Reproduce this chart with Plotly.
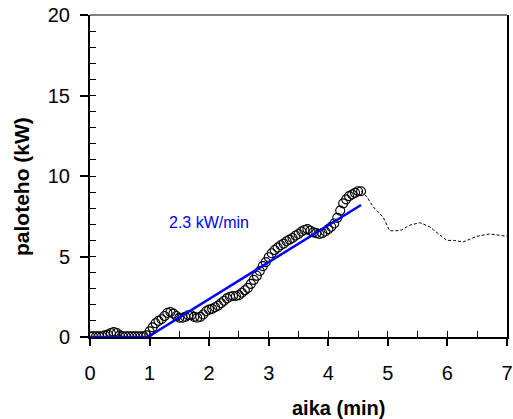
import plotly.graph_objects as go

# measured heat release (circles), time step 0.05 min
t_meas = [round(i * 0.05, 2) for i in range(92)]
hrr_meas = [0.05, 0.05, 0.05, 0.05, 0.05, 0.1, 0.15, 0.25, 0.3, 0.25,
            0.1, 0.05, 0.05, 0.05, 0.05, 0.05, 0.05, 0.05, 0.05, 0.1,
            0.35, 0.6, 0.85, 1.0, 1.1, 1.3, 1.5, 1.55, 1.45, 1.3,
            1.2, 1.2, 1.25, 1.35, 1.35, 1.25, 1.2, 1.25, 1.4, 1.6,
            1.7, 1.75, 1.85, 1.95, 2.1, 2.25, 2.4, 2.5, 2.55, 2.55,
            2.6, 2.75, 2.9, 3.05, 3.3, 3.55, 3.8, 4.1, 4.4, 4.65,
            4.95, 5.2, 5.4, 5.55, 5.7, 5.8, 5.95, 6.05, 6.15, 6.3,
            6.4, 6.55, 6.65, 6.7, 6.6, 6.5, 6.45, 6.4, 6.45, 6.55,
            6.7, 6.85, 7.05, 7.4, 7.85, 8.3, 8.55, 8.75, 8.85, 8.95,
            9.05, 9.05]

# continuation after fit range (thin dashed)
t_tail = [4.55, 4.65, 4.75, 4.92, 5.03, 5.15, 5.23, 5.37, 5.54, 5.7,
          5.99, 6.12, 6.26, 6.49, 6.71, 6.88, 7.0]
hrr_tail = [9.05, 8.7, 8.1, 7.45, 6.6, 6.6, 6.65, 6.95, 7.1, 6.85,
            6.0, 6.0, 5.9, 6.25, 6.4, 6.3, 6.25]

# linear fit (2.3 kW/min)
t_fit = [0.0, 0.97, 4.55]
hrr_fit = [0.0, 0.0, 8.2]

x_ticks = [0, 1, 2, 3, 4, 5, 6, 7]
y_ticks = [0, 5, 10, 15, 20]

FONT = "Liberation Sans, Arial, sans-serif"

fig = go.Figure()
fig.add_trace(go.Scatter(x=t_tail, y=hrr_tail, mode="lines",
                         line=dict(color="black", width=1, dash="3px,2px"),
                         showlegend=False))
fig.add_trace(go.Scatter(x=t_meas, y=hrr_meas, mode="markers",
                         marker=dict(symbol="circle-open", size=9,
                                     color="black", line=dict(width=1.1)),
                         showlegend=False))
fig.add_trace(go.Scatter(x=t_fit, y=hrr_fit, mode="lines",
                         line=dict(color="#0000ff", width=2.5),
                         xaxis="x2", yaxis="y2", showlegend=False))

fig.update_layout(
    width=513, height=419,
    margin=dict(l=90, r=6, t=15, b=82, autoexpand=False),
    paper_bgcolor="white", plot_bgcolor="white",
    font=dict(family=FONT, color="black"),
    xaxis=dict(range=[0, 7], tickvals=x_ticks, ticks="outside", ticklen=7,
               tickwidth=1.5, tickcolor="black", showline=True,
               linecolor="black", linewidth=2, showgrid=False,
               zeroline=False, tickfont=dict(size=20),
               ticklabelstandoff=10, automargin=False),
    yaxis=dict(range=[0, 20], tickvals=y_ticks, ticks="outside", ticklen=8,
               tickwidth=1.5, tickcolor="black", showline=True,
               linecolor="black", linewidth=2, mirror=True, showgrid=False,
               zeroline=False, tickfont=dict(size=20),
               ticklabelstandoff=6, automargin=False),
    xaxis2=dict(range=[0, 7], overlaying="x", anchor="y", side="bottom",
                dtick=0.5, tick0=0, ticks="inside", ticklen=6, tickwidth=1.2,
                tickcolor="black", showticklabels=False, showline=False,
                showgrid=False, zeroline=False, automargin=False),
    yaxis2=dict(range=[0, 20], overlaying="y", anchor="x", side="left",
                dtick=1, tick0=0, ticks="inside", ticklen=6, tickwidth=1.2,
                tickcolor="black", showticklabels=False, showline=False,
                showgrid=False, zeroline=False, automargin=False),
    shapes=[dict(type="line", xref="paper", yref="paper", x0=0, x1=1,
                 y0=1, y1=1, line=dict(color="#808080", width=2))],
    annotations=[
        dict(text="<b>paloteho (kW)</b>", xref="paper", yref="paper",
             x=-0.163, y=0.466, textangle=-90, showarrow=False,
             font=dict(size=21), xanchor="center", yanchor="middle"),
        dict(text="<b>aika (min)</b>", xref="paper", yref="paper",
             x=0.595, y=-0.22, showarrow=False, font=dict(size=20),
             xanchor="center", yanchor="middle"),
        dict(text="2.3 kW/min", x=2.0, y=7.14, xref="x", yref="y",
             showarrow=False, font=dict(size=16, color="#0000ff"),
             xanchor="center", yanchor="middle"),
    ],
)

fig.write_html("out.html")
